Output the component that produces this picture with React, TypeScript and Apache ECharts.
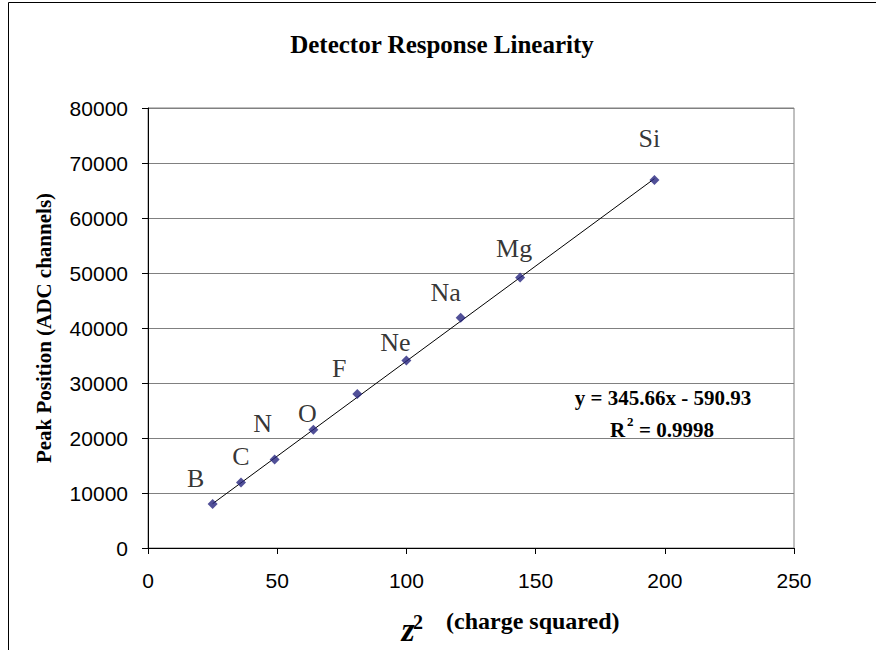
import React, { useEffect, useRef } from "react";
import * as echarts from "echarts";

// ---- data ----
const elements = ["B", "C", "N", "O", "F", "Ne", "Na", "Mg", "Si"];
const zSquared = [25, 36, 49, 64, 81, 100, 121, 144, 196];
const peakPositions = [8000, 11900, 16100, 21500, 28000, 34100, 41850, 49200, 66900];
const trendSlope = 345.66;
const trendIntercept = -590.93;
const rSquared = "0.9998";
const xRange = [0, 250];
const xInterval = 50;
const yRange = [0, 80000];
const yInterval = 10000;

// label placement offsets (style, not data)
const labelOffsets: number[][] = [
  [-17, -26], [0, -26], [-12, -36], [-6, -16], [-18, -26],
  [-11, -18], [-15, -25], [-6, -29], [-5, -42],
];

const SERIF = '"Liberation Serif", "Times New Roman", serif';
const SANS = '"Liberation Sans", Arial, sans-serif';

export default function App() {
  const ref = useRef<HTMLDivElement>(null);
  useEffect(() => {
    document.body.style.margin = "0";
    const chart = echarts.init(ref.current!, null, { renderer: "svg" });
    const xFirst = zSquared[0];
    const xLast = zSquared[zSquared.length - 1];
    const trendData = [
      [xFirst, trendSlope * xFirst + trendIntercept],
      [xLast, trendSlope * xLast + trendIntercept],
    ];
    const scatterData = elements.map((name, i) => ({
      name,
      value: [zSquared[i], peakPositions[i]],
      label: { offset: labelOffsets[i] },
    }));
    const txt = (text: string, x: number, y: number, font: string, align = "center", extra: any = {}) => ({
      type: "text",
      x,
      y,
      silent: true,
      ...extra,
      style: {
        text,
        font,
        fill: "#000",
        textAlign: align,
        textVerticalAlign: "middle",
        align,
        verticalAlign: "middle",
      },
    });
    chart.setOption({
      animation: false,
      backgroundColor: "#fff",
      grid: {
        left: 148,
        top: 108,
        width: 646,
        height: 440,
        show: true,
        borderColor: "#808080",
        borderWidth: 1,
        containLabel: false,
      },
      xAxis: {
        type: "value",
        min: xRange[0],
        max: xRange[1],
        interval: xInterval,
        axisLine: { show: true, onZero: false, lineStyle: { color: "#000", width: 1 } },
        axisTick: { show: true, inside: false, length: 6, lineStyle: { color: "#000" } },
        splitLine: { show: false },
        axisLabel: { color: "#000", fontFamily: SANS, fontSize: 21, margin: 22, formatter: (v: number) => String(v) },
      },
      yAxis: {
        type: "value",
        min: yRange[0],
        max: yRange[1],
        interval: yInterval,
        axisLine: { show: true, onZero: false, lineStyle: { color: "#000", width: 1 } },
        axisTick: { show: true, inside: false, length: 6, lineStyle: { color: "#000" } },
        splitLine: { show: true, lineStyle: { color: "#808080", width: 1 } },
        axisLabel: { color: "#000", fontFamily: SANS, fontSize: 21, margin: 20, formatter: (v: number) => String(v) },
      },
      series: [
        {
          type: "line",
          data: trendData,
          symbol: "none",
          lineStyle: { color: "#000", width: 1 },
          silent: true,
          z: 2,
        },
        {
          type: "scatter",
          data: scatterData,
          symbol: "diamond",
          symbolSize: 10,
          itemStyle: { color: "#25247E" },
          z: 3,
          label: {
            show: true,
            position: "inside",
            formatter: "{b}",
            color: "#000",
            textBorderWidth: 0,
            textBorderColor: "transparent",
            fontFamily: SERIF,
            fontSize: 26,
          },
        },
      ],
      graphic: [
        {
          type: "rect",
          silent: true,
          shape: { x: 8.5, y: 2.5, width: 900, height: 700 },
          style: { fill: "none", stroke: "#000", lineWidth: 1 },
          z: -1,
        },
        txt("Detector Response Linearity", 442, 44, `bold 25px ${SERIF}`),
        txt("Peak Position (ADC channels)", 44, 328, `bold 21px ${SERIF}`, "center", { rotation: Math.PI / 2 }),
        txt("z", 408, 629, `italic bold 34px ${SERIF}`),
        txt("2", 418, 622, `bold 20px ${SERIF}`),
        txt("(charge squared)", 446, 621, `bold 24px ${SERIF}`, "left"),
        txt(`y = ${trendSlope}x - ${Math.abs(trendIntercept)}`, 663, 398, `bold 21px ${SERIF}`),
        txt("R", 610, 430, `bold 21px ${SERIF}`, "left"),
        txt("2", 627, 421, `bold 13px ${SERIF}`, "left"),
        txt(`= ${rSquared}`, 639, 430, `bold 21px ${SERIF}`, "left"),
      ],
    });
    return () => chart.dispose();
  }, []);
  return <div ref={ref} style={{ width: 876, height: 650 }} />;
}
